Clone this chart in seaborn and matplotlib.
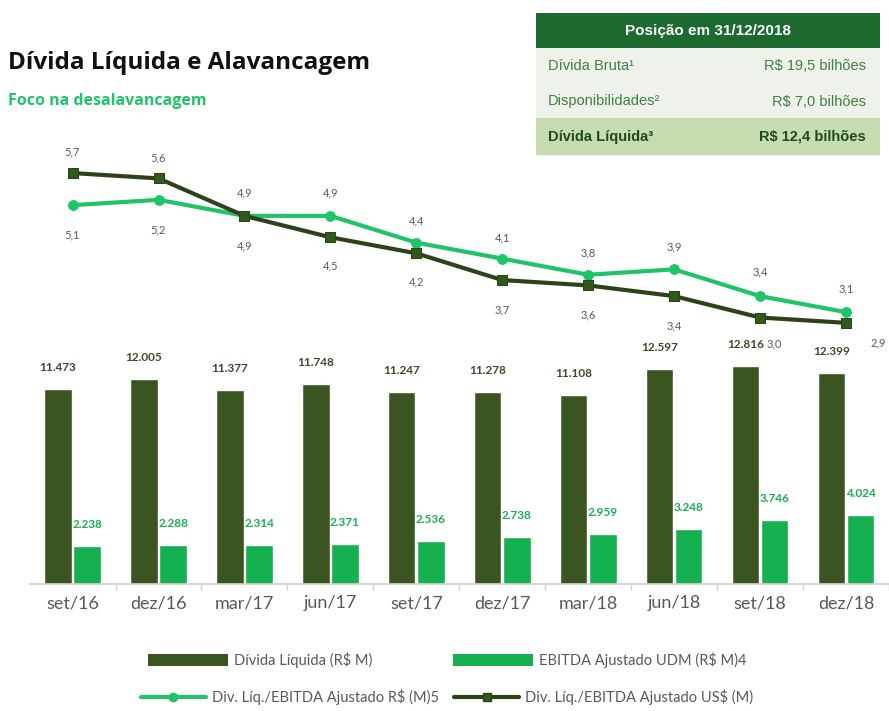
import numpy as np
import pandas as pd
import matplotlib
matplotlib.use("Agg")
import matplotlib.pyplot as plt
from matplotlib.patches import Rectangle, Patch
from matplotlib.lines import Line2D
import seaborn as sns

# ---------------- data ----------------
periods = ["set/16", "dez/16", "mar/17", "jun/17", "set/17",
           "dez/17", "mar/18", "jun/18", "set/18", "dez/18"]
divida_liquida = [11473, 12005, 11377, 11748, 11247, 11278, 11108, 12597, 12816, 12399]
ebitda_udm = [2238, 2288, 2314, 2371, 2536, 2738, 2959, 3248, 3746, 4024]
alav_brl = [5.1, 5.2, 4.9, 4.9, 4.4, 4.1, 3.8, 3.9, 3.4, 3.1]
alav_usd = [5.7, 5.6, 4.9, 4.5, 4.2, 3.7, 3.6, 3.4, 3.0, 2.9]

series_bar = ["Dívida Líquida (R$ M)", "EBITDA Ajustado UDM (R$ M)4"]
series_line = ["Div. Líq./EBITDA Ajustado R$ (M)5", "Div. Líq./EBITDA Ajustado US$ (M)"]

table_header = "Posição em 31/12/2018"
table_rows = [("Dívida Bruta¹", "R$ 19,5 bilhões"),
              ("Disponibilidades²", "R$ 7,0 bilhões"),
              ("Dívida Líquida³", "R$ 12,4 bilhões")]

title = "Dívida Líquida e Alavancagem"
subtitle = "Foco na desalavancagem"

# ---------------- style ----------------
sns.set_theme(style="white")
plt.rcParams["font.family"] = ["Lato", "DejaVu Sans"]

DARK = "#3a5520"
GREEN = "#15b050"
LINE_GREEN = "#1fc468"
LINE_DARK = "#2e4219"
GRAY = "#595959"

W, H = 889, 711
fig = plt.figure(figsize=(W / 100, H / 100), dpi=100)

def fx(px):
    return px / W

def fy(py):
    return 1 - py / H

# axes placement (pixels)
ax_left, ax_right, ax_top, ax_bottom = 29.6, 889, 140, 584
ax = fig.add_axes([fx(ax_left), fy(ax_bottom), fx(ax_right - ax_left), (ax_bottom - ax_top) / H])

df = pd.DataFrame({
    "period": periods * 2,
    "value": divida_liquida + ebitda_udm,
    "serie": [series_bar[0]] * len(periods) + [series_bar[1]] * len(periods),
})
sns.barplot(data=df, x="period", y="value", hue="serie", order=periods,
            hue_order=series_bar, palette=[DARK, GREEN], width=0.68, gap=0.06,
            saturation=1, ax=ax, legend=False)

ax.set_xlim(-0.5, 9.39)
ax.set_ylim(0, 26063)
ax.set_xlabel("")
ax.set_ylabel("")
ax.set_yticks([])
for s in ["top", "right", "left"]:
    ax.spines[s].set_visible(False)
ax.spines["bottom"].set_color("#d0d0d0")
ax.spines["bottom"].set_linewidth(1.2)
ax.tick_params(axis="x", which="major", length=0, pad=8, labelsize=13, labelcolor=GRAY)
ax.set_xticks(np.arange(len(periods)) + 0.5, minor=True)
ax.tick_params(axis="x", which="minor", length=4, color="#d0d0d0", direction="out", bottom=True)

# bar labels
off = 0.17
x = np.arange(len(periods))
for i in range(len(periods)):
    ax.annotate(f"{divida_liquida[i]/1000:.3f}", (x[i] - off, divida_liquida[i]),
                xytext=(0, 16), textcoords="offset pixels", ha="center", va="bottom",
                fontsize=8.5, fontweight="bold", color="#3d4a2a")
    ax.annotate(f"{ebitda_udm[i]/1000:.3f}", (x[i] + off, ebitda_udm[i]),
                xytext=(0, 16), textcoords="offset pixels", ha="center", va="bottom",
                fontsize=8.5, fontweight="bold", color="#1aae55")

# lines on twin axis
ax2 = ax.twinx()
ax2.set_ylim(-1.981, 6.318)
ax2.set_xlim(ax.get_xlim())
ax2.axis("off")
sns.lineplot(x=x, y=alav_brl, ax=ax2, color=LINE_GREEN, linewidth=3,
             marker="o", markersize=7, markeredgecolor=LINE_GREEN)
sns.lineplot(x=x, y=alav_usd, ax=ax2, color=LINE_DARK, linewidth=3,
             marker="s", markersize=7, markerfacecolor="#2f5a1a", markeredgecolor=LINE_DARK)

def fmt(v):
    return f"{v:.1f}".replace(".", ",")

green_off = [(0, -30), (0, -30), (0, 23), (0, 23), (0, 22), (0, 21), (0, 22), (0, 22), (0, 24), (0, 23)]
dark_off = [(0, 21), (0, 20), (0, -30), (0, -29), (0, -29), (0, -30), (0, -30), (0, -30), (14, -26), (32, -20)]
for i in range(len(periods)):
    ax2.annotate(fmt(alav_brl[i]), (x[i], alav_brl[i]), xytext=green_off[i],
                 textcoords="offset pixels", ha="center", va="center",
                 fontsize=8, color=GRAY, annotation_clip=False)
    ax2.annotate(fmt(alav_usd[i]), (x[i], alav_usd[i]), xytext=dark_off[i],
                 textcoords="offset pixels", ha="center", va="center",
                 fontsize=8, color=GRAY, annotation_clip=False)

# ---------------- titles ----------------
fig.text(fx(8), fy(69), title, fontsize=17.5, fontweight="bold", color="#111111",
         family=["Open Sans", "DejaVu Sans"], ha="left", va="baseline")
fig.text(fx(8), fy(105), subtitle, fontsize=11.5, fontweight="bold", color="#22c36b",
         family=["Open Sans", "DejaVu Sans"], ha="left", va="baseline")

# ---------------- table ----------------
tx0, tx1 = 536, 880
rows_y = [(13, 48), (48, 85), (85, 118), (118, 155)]
bgs = ["#1d6a30", "#eef2ea", "#eef2ea", "#c6dcb1"]
for (y0, y1), bg in zip(rows_y, bgs):
    fig.patches.append(Rectangle((fx(tx0), fy(y1)), fx(tx1 - tx0), (y1 - y0) / H,
                                 transform=fig.transFigure, facecolor=bg, edgecolor="none"))
narrow = ["Liberation Sans Narrow", "Liberation Sans", "DejaVu Sans"]
fig.text(fx((tx0 + tx1) / 2), fy(31), table_header, ha="center", va="center",
         fontsize=11, fontweight="bold", color="white", family=["Liberation Sans", "DejaVu Sans"])
for j, (lab, val) in enumerate(table_rows):
    y0, y1 = rows_y[j + 1]
    yc = fy((y0 + y1) / 2)
    bold = j == 2
    col = "#1f4a1f" if bold else "#3f7f3f"
    fw = "bold" if bold else "normal"
    fig.text(fx(548), yc, lab, ha="left", va="center", fontsize=10.5,
             fontweight=fw, color=col, family=narrow)
    fig.text(fx(866), yc, val, ha="right", va="center", fontsize=10.5,
             fontweight=fw, color=col, family=narrow)

# ---------------- legends ----------------
h1 = [Patch(facecolor=DARK, edgecolor="none"), Patch(facecolor=GREEN, edgecolor="none")]
leg1 = fig.legend(h1, series_bar, loc="center", bbox_to_anchor=(fx(447), fy(660)),
                  ncol=2, frameon=False, fontsize=10.5, handlelength=5.5, handleheight=0.8,
                  columnspacing=5.5, handletextpad=0.4, labelcolor=GRAY)
h2 = [Line2D([], [], color=LINE_GREEN, lw=3, marker="o", markersize=6),
      Line2D([], [], color=LINE_DARK, lw=3, marker="s", markersize=6, markerfacecolor="#2f5a1a")]
leg2 = fig.legend(h2, series_line, loc="center", bbox_to_anchor=(fx(447), fy(697)),
                  ncol=2, frameon=False, fontsize=10.5, handlelength=4.5,
                  columnspacing=1.0, handletextpad=0.4, labelcolor=GRAY)

fig.savefig("out.png", dpi=100)
